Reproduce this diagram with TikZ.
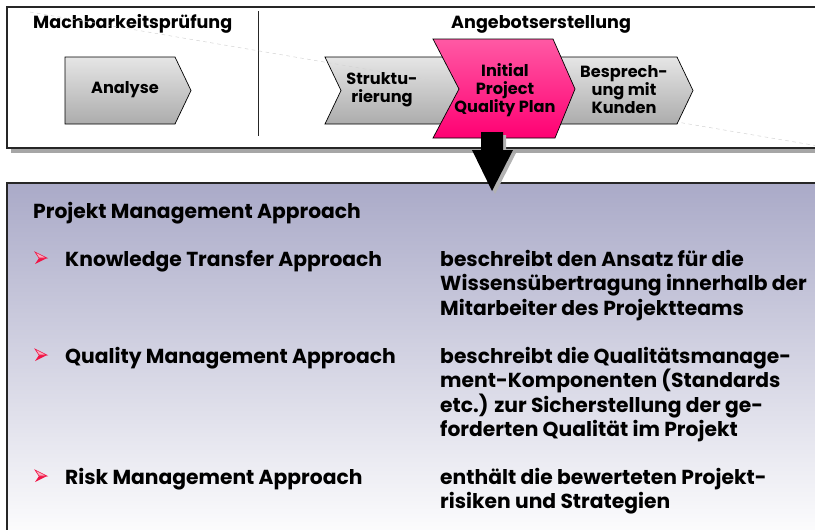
\documentclass[tikz,border=0pt]{standalone}
\usepackage{fontspec}
\setmainfont{Poppins}
\usetikzlibrary{positioning}

\definecolor{qpink}{RGB}{255,0,115}
\definecolor{qlight}{RGB}{255,215,230}
\definecolor{lavender}{RGB}{170,170,200}
\definecolor{bulletred}{RGB}{240,20,70}

\tikzset{
  chevron/.style={draw=black, line width=0.6pt, top color=gray!20, middle color=white, bottom color=gray!65},
  qpshape/.style={draw=black, line width=0.6pt, top color=qpink!65, middle color=qlight, bottom color=qpink},
  phase/.style={anchor=base west, inner sep=0, font=\bfseries\fontsize{15}{17}\selectfont},
  steplabel/.style={align=center, inner sep=0, font=\bfseries\fontsize{13.8}{15.4}\selectfont},
  item/.style={anchor=base west, align=left, inner sep=0, font=\bfseries\fontsize{17.3}{20.9}\selectfont}
}

\begin{document}
\begin{tikzpicture}[x=0.03cm, y=-0.03cm]
    \useasboundingbox (0,0) rectangle (815,529);
    \clip (0,0) rectangle (815,529);

    % upper frame with shadow
    \fill[gray!70] (11,148) rectangle (830,153);
    \draw[line width=1.2pt, black!85, fill=white] (7,7) rectangle (830,148);
    \draw[line width=0.8pt, black!85] (258,11) -- (258,136);

    \node[phase] (mach) at (33,28) {Machbarkeitsprüfung};
    \node[phase] (ange) at (451,28) {Angebotserstellung};

    % process steps
    \draw[chevron] (65,57) -- (175,57) -- (191,90.5) -- (175,124) -- (65,124) -- cycle;
    \draw[chevron] (325,57) -- (470,57) -- (470,124) -- (325,124) -- (341,90.5) -- cycle;
    \draw[gray!35, dashed, line width=0.4pt] (30,12) -- (830,148);
    \draw[chevron] (540,57) -- (677,57) -- (693,90.5) -- (677,124) -- (540,124) -- cycle;
    \draw[qpshape] (433,39) -- (553,39) -- (575,89) -- (555,138) -- (433,138) -- (459,89) -- cycle;

    \node[steplabel] (ana) at (125,90) {Analyse};
    \node[steplabel] (str) at (382,90) {Struktu-\\rierung};
    \node[steplabel] (iqp) at (505,90) {Initial\\Project\\Quality Plan};
    \node[steplabel] (bes) at (624,90) {Besprech-\\ung mit\\Kunden};

    % lower frame
    \fill[top color=lavender, bottom color=white] (7,183) rectangle (830,545);
    \draw[line width=1.2pt, black!85] (7,545) -- (7,183) -- (830,183);

    % block arrow
    \fill[gray!60] (484,135) -- (506,135) -- (506,153) -- (516,153) -- (495,194) -- (475,153) -- (484,153) -- cycle;
    \fill[black] (481,132) -- (503,132) -- (503,150) -- (513,150) -- (492,191) -- (472,150) -- (481,150) -- cycle;

    % bullets
    \foreach \y in {258,355,476} {
        \fill[bulletred] (39,\y) -- (47,\y) -- (35,\y+6) -- cycle;
        \draw[bulletred, line width=0.5pt, fill=bulletred!35] (35,\y-6) -- (47,\y) -- (39,\y) -- cycle;
    }

    \node[item] (pma) at (33,218) {Projekt Management Approach};

    \node[item] (kta) at (65,266) {Knowledge Transfer Approach};
    \node[item] (ktd) at (440,315) {beschreibt den Ansatz für die\\Wissensübertragung innerhalb der\\Mitarbeiter des Projektteams};

    \node[item] (qma) at (65,363) {Quality Management Approach};
    \node[item] (qmd) at (440,436.5) {beschreibt die Qualitätsmanage-\\ment-Komponenten (Standards\\etc.) zur Sicherstellung der ge-\\forderten Qualität im Projekt};

    \node[item] (rma) at (65,484) {Risk Management Approach};
    \node[item] (rmd) at (440,508.5) {enthält die bewerteten Projekt-\\risiken und Strategien};
\end{tikzpicture}
\end{document}
